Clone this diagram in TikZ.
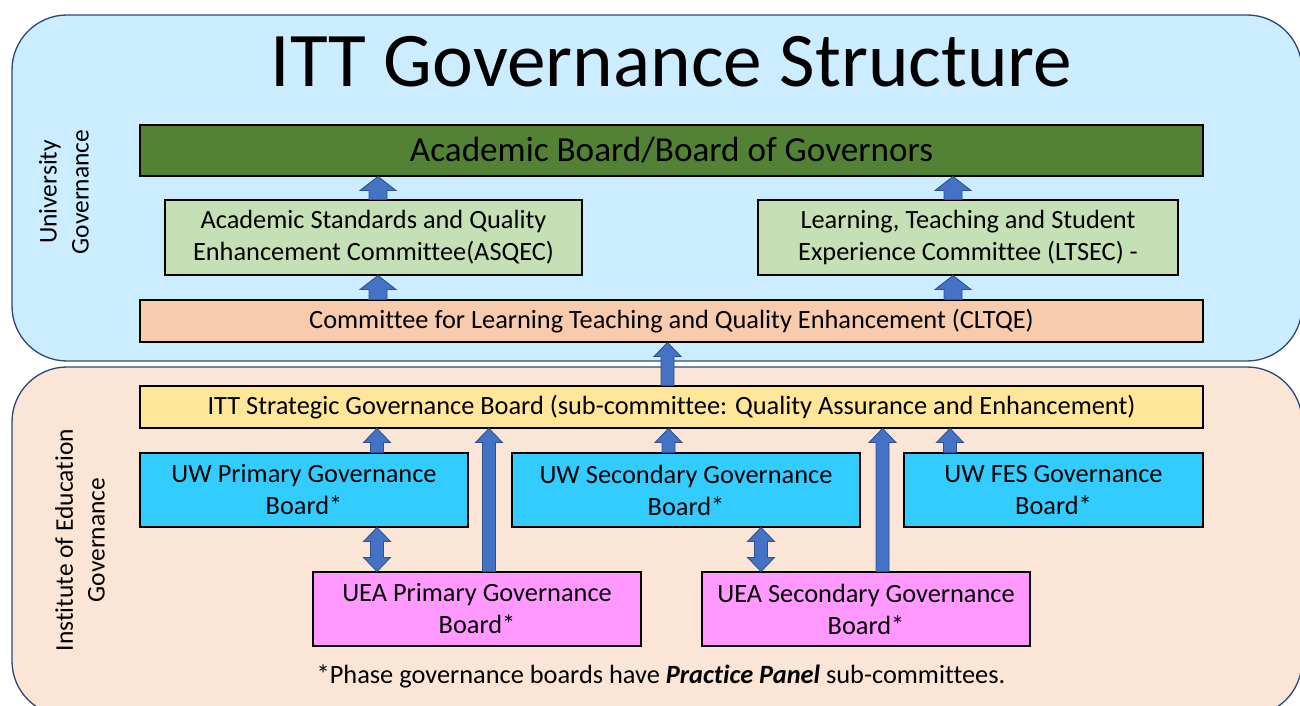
\documentclass[tikz,border=0pt]{standalone}
\usepackage{fontspec}
\setmainfont{Carlito}[Ligatures=NoCommon]
\usetikzlibrary{calc}

\definecolor{unifill}{RGB}{204,236,255}
\definecolor{ioefill}{RGB}{251,229,214}
\definecolor{paneledge}{RGB}{47,72,120}
\definecolor{boardgreen}{RGB}{84,130,53}
\definecolor{cttegreen}{RGB}{197,224,180}
\definecolor{cltqeorange}{RGB}{248,203,173}
\definecolor{sgbyellow}{RGB}{255,230,153}
\definecolor{uwblue}{RGB}{51,204,255}
\definecolor{ueapink}{RGB}{255,153,255}
\definecolor{arrowfill}{RGB}{68,114,196}
\definecolor{arrowedge}{RGB}{47,82,143}

\begin{document}
\begin{tikzpicture}
    \tikzset{
        panel/.style={draw=paneledge, line width=0.75pt, rounded corners=1.1cm},
        box/.style={draw=black, line width=0.6pt, inner sep=0pt, align=center,
            font=\fontsize{15}{18.2}\selectfont},
        blockarrow/.style={fill=arrowfill, draw=arrowedge, line width=0.5pt, line join=miter},
        sidelabel/.style={rotate=90, align=center, font=\fontsize{14.5}{18.2}\selectfont},
    }
    % block arrow pointing up: x column, tail anchor, tip anchor
    \def\blkup#1#2#3{\filldraw[blockarrow] ($(#1 |- #2)+(-\shaftw,0)$) -- ($(#1 |- #3)+(-\shaftw,-\headl)$)
        -- ($(#1 |- #3)+(-\headw,-\headl)$) -- (#1 |- #3) -- ($(#1 |- #3)+(\headw,-\headl)$)
        -- ($(#1 |- #3)+(\shaftw,-\headl)$) -- ($(#1 |- #2)+(\shaftw,0)$) -- cycle;}
    % same, with a head at both ends
    \def\blkboth#1#2#3{\filldraw[blockarrow] (#1 |- #2) -- ($(#1 |- #2)+(\headw,\headl)$)
        -- ($(#1 |- #2)+(\shaftw,\headl)$) -- ($(#1 |- #3)+(\shaftw,-\headl)$)
        -- ($(#1 |- #3)+(\headw,-\headl)$) -- (#1 |- #3) -- ($(#1 |- #3)+(-\headw,-\headl)$)
        -- ($(#1 |- #3)+(-\shaftw,-\headl)$) -- ($(#1 |- #2)+(-\shaftw,\headl)$)
        -- ($(#1 |- #2)+(-\headw,\headl)$) -- cycle;}

    \useasboundingbox (0,0) rectangle (26,14.12);

    % the two governance panels
    \draw[panel, fill=unifill] (0.24,6.9) rectangle (26.04,13.82);
    \draw[panel, fill=ioefill] (0.24,-0.2) rectangle (26.04,6.78);

    \node[anchor=base, font=\fontsize{44}{53}\selectfont] (title) at (13.43,12.38) {ITT Governance Structure};
    \node[sidelabel] (unilab) at (1.28,10.28) {University\\Governance};
    \node[sidelabel] (ioelab) at (1.6,3.32) {Institute of Education\\Governance};

    % university level
    \node[box, fill=boardgreen, minimum width=21.26cm, minimum height=1.02cm,
        font=\fontsize{20}{24}\selectfont] (board) at (13.43,11.11) {Academic Board/Board of Governors};
    \node[box, fill=cttegreen, minimum width=8.34cm, minimum height=1.5cm] (asqec) at (7.47,9.37)
        {Academic Standards and Quality\\Enhancement Committee(ASQEC)};
    \node[box, fill=cttegreen, minimum width=8.4cm, minimum height=1.5cm] (ltsec) at (19.36,9.37)
        {Learning, Teaching and Student\\Experience Committee (LTSEC) -};
    \node[box, fill=cltqeorange, minimum width=21.26cm, minimum height=0.84cm] (cltqe) at (13.43,7.70)
        {Committee for Learning Teaching and Quality Enhancement (CLTQE)};

    % institute level
    \node[box, fill=sgbyellow, minimum width=21.26cm, minimum height=0.84cm] (sgb) at (13.43,5.98)
        {ITT Strategic Governance Board (sub-committee: Quality Assurance and Enhancement)};
    \node[box, fill=uwblue, minimum width=6.56cm, minimum height=1.48cm] (uwpri) at (6.08,4.32)
        {UW Primary Governance\\Board*};
    \node[box, fill=uwblue, minimum width=6.96cm, minimum height=1.48cm] (uwsec) at (13.72,4.32)
        {UW Secondary Governance\\Board*};
    \node[box, fill=uwblue, minimum width=5.98cm, minimum height=1.48cm] (uwfes) at (21.07,4.32)
        {UW FES Governance\\Board*};
    \node[box, fill=ueapink, minimum width=6.56cm, minimum height=1.48cm] (ueapri) at (9.54,1.94)
        {UEA Primary Governance\\Board*};
    \node[box, fill=ueapink, minimum width=6.56cm, minimum height=1.48cm] (ueasec) at (17.32,1.94)
        {UEA Secondary Governance\\Board*};

    \node[anchor=base, font=\fontsize{15}{18}\selectfont] (note) at (13.22,0.44)
        {*Phase governance boards have \textbf{\textit{Practice Panel}} sub-committees.};

    % arrow columns
    \coordinate (cL) at (7.56,0);
    \coordinate (cR) at (19.06,0);
    \coordinate (cM) at (13.35,0);
    \coordinate (cPri) at (7.54,0);
    \coordinate (cUeaPri) at (9.78,0);
    \coordinate (cSec) at (13.37,0);
    \coordinate (cDbl) at (15.22,0);
    \coordinate (cUeaSec) at (17.65,0);
    \coordinate (cFes) at (19.0,0);

    \def\headw{0.36}\def\shaftw{0.18}\def\headl{0.28}
    \blkup{cL}{asqec.north}{board.south}
    \blkup{cR}{ltsec.north}{board.south}
    \blkup{cL}{cltqe.north}{asqec.south}
    \blkup{cR}{cltqe.north}{ltsec.south}

    \def\headw{0.27}\def\shaftw{0.13}\def\headl{0.28}
    \blkup{cM}{sgb.north}{cltqe.south}
    \blkup{cPri}{uwpri.north}{sgb.south}
    \blkup{cSec}{uwsec.north}{sgb.south}
    \blkup{cFes}{uwfes.north}{sgb.south}
    \blkup{cUeaPri}{ueapri.north}{sgb.south}
    \blkup{cUeaSec}{ueasec.north}{sgb.south}
    \blkboth{cPri}{ueapri.north}{uwpri.south}
    \blkboth{cDbl}{ueasec.north}{uwsec.south}
\end{tikzpicture}
\end{document}
